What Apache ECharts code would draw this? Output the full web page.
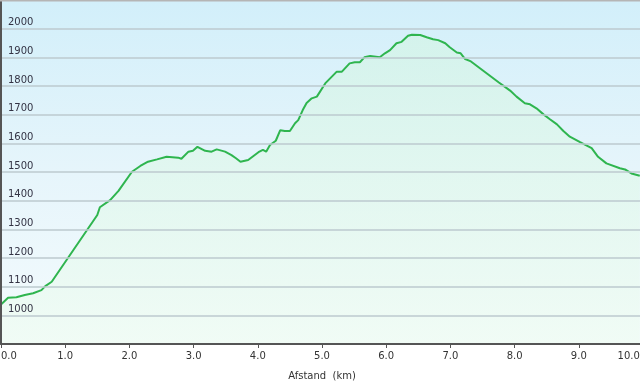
<!DOCTYPE html>
<html>
<head>
<meta charset="utf-8">
<script src="https://cdn.jsdelivr.net/npm/echarts@6/dist/echarts.min.js"></script>
<style>
html,body{margin:0;padding:0;background:#fff;overflow:hidden;}
#chart{width:640px;height:382px;}
</style>
</head>
<body>
<div id="chart"></div>
<script>
// distance (km)
var distance = [0.00,0.11,0.24,0.37,0.50,0.63,0.69,0.79,1.50,1.54,1.70,1.83,2.04,2.17,2.29,2.43,2.58,2.76,2.81,2.92,2.99,3.06,3.18,3.28,3.36,3.49,3.59,3.66,3.73,3.85,4.01,4.08,4.13,4.19,4.28,4.35,4.42,4.50,4.58,4.63,4.70,4.76,4.84,4.92,5.05,5.23,5.31,5.43,5.51,5.59,5.66,5.75,5.90,5.98,6.06,6.16,6.24,6.34,6.40,6.53,6.63,6.73,6.81,6.92,6.99,7.10,7.16,7.23,7.31,7.46,7.75,7.85,7.93,8.03,8.16,8.24,8.34,8.45,8.55,8.66,8.76,8.86,9.02,9.20,9.30,9.43,9.64,9.72,9.82,9.95];
// elevation (m)
var elevation = [1038,1061,1063,1071,1077,1088,1102,1117,1350,1377,1402,1434,1501,1521,1536,1544,1553,1550,1546,1571,1574,1588,1574,1571,1579,1571,1559,1548,1536,1542,1569,1577,1571,1594,1609,1646,1643,1643,1670,1681,1716,1741,1757,1763,1809,1850,1850,1879,1883,1883,1900,1905,1900,1914,1925,1949,1954,1975,1979,1978,1970,1963,1960,1949,1935,1917,1914,1894,1887,1862,1813,1797,1784,1763,1740,1736,1722,1701,1684,1666,1643,1623,1604,1583,1553,1530,1513,1509,1495,1487];
var xTicks = [0,1,2,3,4,5,6,7,8,9,10];
var yTicks = [1000,1100,1200,1300,1400,1500,1600,1700,1800,1900,2000];

var pts = distance.map(function(d,i){return [d, elevation[i]];});
var chart = echarts.init(document.getElementById('chart'));
var font = 'DejaVu Sans';
chart.setOption({
  animation:false,
  backgroundColor:'#ffffff',
  grid:{left:1, top:0, width:642, height:344, show:true, borderWidth:0,
    outerBoundsMode:'none', containLabel:false,
    backgroundColor:new echarts.graphic.LinearGradient(0,0,0,1,[
      {offset:0,color:'#d2effa'},{offset:0.5,color:'#e6f5fb'},{offset:1,color:'#f4fbfd'}])},
  xAxis:{type:'value', min:0, max:10, interval:1, z:10,
    name:'Afstand  (km)', nameLocation:'middle', nameGap:27,
    nameTextStyle:{fontFamily:font, fontSize:10, color:'#333'},
    axisLine:{show:true, lineStyle:{color:'#555', width:2}},
    axisTick:{show:true, length:4, lineStyle:{color:'#555'}},
    axisLabel:{fontFamily:font, fontSize:10, color:'#333', margin:7,
      alignMinLabel:'left', alignMaxLabel:'right',
      formatter:function(v){return xTicks.indexOf(v)===xTicks.length-1 ? v.toFixed(1)+' ' : v.toFixed(1);}},
    splitLine:{show:false}},
  yAxis:{type:'value', min:900, max:2100, interval:100, z:10,
    axisLine:{show:true, lineStyle:{color:'#555', width:2}},
    axisTick:{show:false},
    axisLabel:{inside:true, margin:7, fontFamily:font, fontSize:10, color:'#333344',
      verticalAlign:'bottom', padding:[0,0,1,0],
      showMinLabel:false, showMaxLabel:false,
      formatter:function(v){return yTicks.indexOf(v)>=0 ? String(v) : '';}},
    splitLine:{show:true, lineStyle:{color:'#bccacf', width:1.5}}},
  series:[{type:'line', data:pts, showSymbol:false, smooth:false,
    lineStyle:{color:'#2fb54f', width:2},
    areaStyle:{color:new echarts.graphic.LinearGradient(0,0,0,1,[
      {offset:0,color:'#d3f4e6'},{offset:1,color:'#effcf2'}])},
    z:3}],
  graphic:[{type:'line', shape:{x1:0,y1:0.5,x2:640,y2:0.5}, style:{stroke:'#b5b5b5', lineWidth:2}, z:100}]
});
</script>
</body>
</html>
